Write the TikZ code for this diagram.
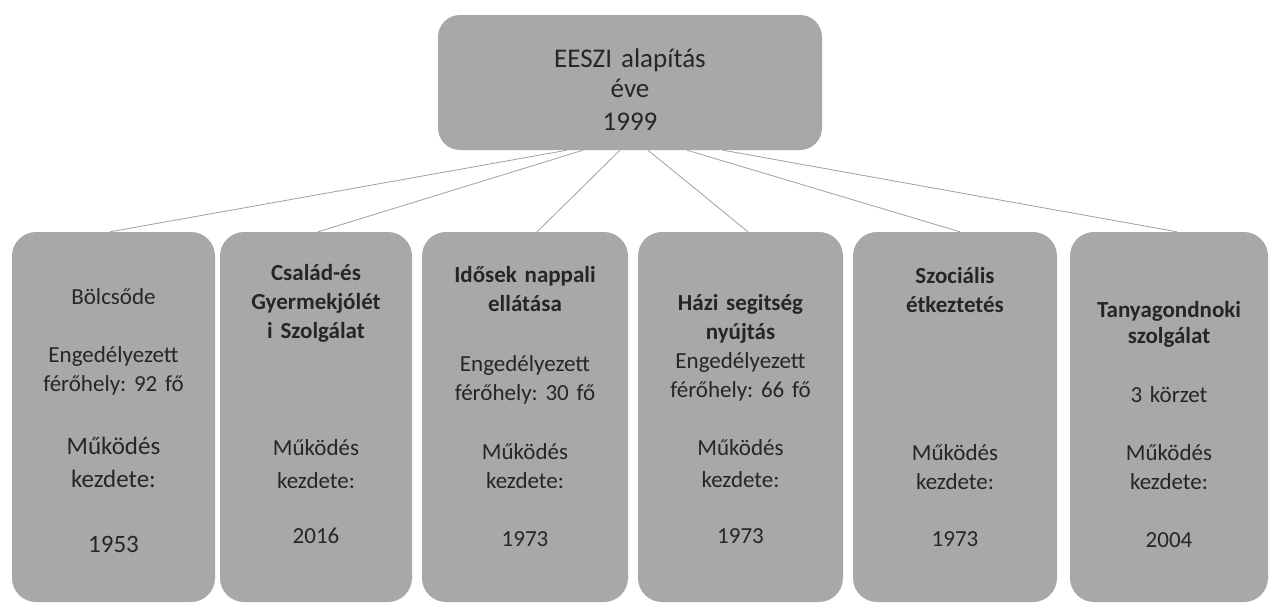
\documentclass[tikz,border=0pt]{standalone}
\usepackage{fontspec}
\setmainfont{Carlito}
\frenchspacing
\usepackage{tikz}
\usetikzlibrary{shapes, arrows, positioning}
\definecolor{cardgray}{RGB}{168,168,168}
\definecolor{inkgray}{RGB}{38,38,38}
\definecolor{wiregray}{RGB}{160,160,160}
\tikzstyle{root} = [rectangle, rounded corners=22pt, fill=cardgray,
    minimum width=384pt, minimum height=135pt]
\tikzstyle{roottext} = [text width=300pt, text centered, inner sep=0pt,
    text=inkgray, font=\fontsize{27}{30}\selectfont]
\tikzstyle{card} = [rectangle, rounded corners=24pt, fill=cardgray,
    minimum height=370pt]
\tikzstyle{cardtext} = [text width=190pt, text centered, inner sep=0pt,
    text=inkgray, font=\fontsize{23}{29}\selectfont]
\tikzstyle{link} = [draw=wiregray, line width=0.8pt]

\begin{document}
\begin{tikzpicture}[x=1pt, y=-1pt]
    \useasboundingbox (0,0) rectangle (1269,603);
    % Nodes
    \node [root] (eeszi) at (630,82.5) {};
    \node [roottext, below=34pt of eeszi.north] (eeszitext)
        {EESZI alapítás\\éve\\[3pt]1999};
    \node [card, minimum width=203pt] (bolcsode) at (113.5,417) {};
    \node [card, minimum width=192pt] (csalad) at (316,417) {};
    \node [card, minimum width=206pt] (idosek) at (525,417) {};
    \node [card, minimum width=205pt] (hazi) at (740.5,417) {};
    \node [card, minimum width=204pt] (szocialis) at (955,417) {};
    \node [card, minimum width=198pt] (tanya) at (1169,417) {};
    \node [cardtext, below=57pt of bolcsode.north] (bolcsodetext)
        {Bölcsőde\\[29pt]Engedélyezett\\férőhely: 92 fő\\[34pt]{\fontsize{25}{29}\selectfont Működés}\\[4pt]{\fontsize{25}{29}\selectfont kezdete:}\\[36pt]{\fontsize{25}{29}\selectfont 1953}};
    \node [cardtext, below=32pt of csalad.north] (csaladtext)
        {\textbf{Család-és}\\\textbf{Gyermekjólét}\\\textbf{i Szolgálat}\\[88pt]Működés\\[4pt]kezdete:\\[26pt]2016};
    \node [cardtext, below=34pt of idosek.north] (idosektext)
        {\textbf{Idősek nappali}\\\textbf{ellátása}\\[31pt]Engedélyezett\\férőhely: 30 fő\\[30pt]Működés\\kezdete:\\[29pt]1973};
    \node [cardtext, below=62pt of hazi.north] (hazitext)
        {\textbf{Házi segitség}\\\textbf{nyújtás}\\Engedélyezett\\férőhely: 66 fő\\[29pt]Működés\\[3pt]kezdete:\\[27pt]1973};
    \node [cardtext, below=35pt of szocialis.north] (szocialistext)
        {\textbf{Szociális}\\\textbf{étkeztetés}\\[119pt]Működés\\kezdete:\\[28pt]1973};
    \node [cardtext, below=69pt of tanya.north] (tanyatext)
        {\textbf{Tanyagondnoki}\\[-3pt]\textbf{szolgálat}\\[30pt]3 körzet\\[29pt]Működés\\kezdete:\\[29pt]2004};
    % Edges
    \path [link] ([xshift=-63pt]eeszi.south) -- ([xshift=-3.5pt]bolcsode.north);
    \path [link] ([xshift=-47pt]eeszi.south) -- ([xshift=2pt]csalad.north);
    \path [link] ([xshift=-10pt]eeszi.south) -- ([xshift=12pt]idosek.north);
    \path [link] ([xshift=18pt]eeszi.south) -- ([xshift=7.5pt]hazi.north);
    \path [link] ([xshift=57pt]eeszi.south) -- ([xshift=5pt]szocialis.north);
    \path [link] ([xshift=93pt]eeszi.south) -- ([xshift=8pt]tanya.north);
\end{tikzpicture}
\end{document}
